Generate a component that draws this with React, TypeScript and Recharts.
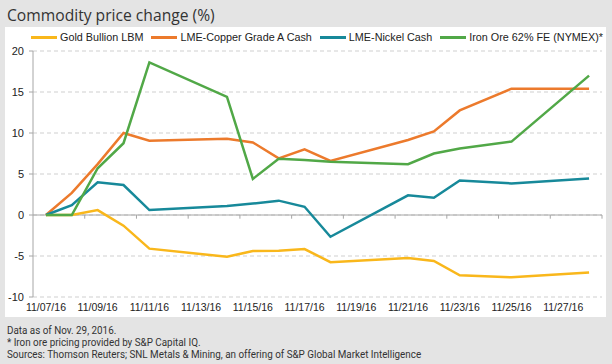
import React from 'react';
import { LineChart, Line, XAxis, YAxis, CartesianGrid, ReferenceLine } from 'recharts';

// trading days shown on the chart
const dates = [
  '11/07/16', '11/08/16', '11/09/16', '11/10/16', '11/11/16',
  '11/14/16', '11/15/16', '11/16/16', '11/17/16', '11/18/16',
  '11/21/16', '11/22/16', '11/23/16', '11/25/16', '11/28/16'
];

const gold = [0, 0, 0.6, -1.3, -4.1, -5.1, -4.4, -4.35, -4.15, -5.75, -5.25, -5.6, -7.35, -7.6, -7.0];
const copper = [0, 2.7, 6.2, 10.0, 9.05, 9.3, 8.85, 6.9, 8.0, 6.6, 9.15, 10.2, 12.75, 15.4, 15.4];
const nickel = [0, 1.2, 4.0, 3.65, 0.6, 1.1, 1.4, 1.75, 1.0, -2.65, 2.4, 2.1, 4.2, 3.85, 4.45];
const ironOre = [0, 0, 5.7, 8.75, 18.6, 14.4, 4.4, 6.85, 6.7, 6.5, 6.2, 7.5, 8.1, 8.95, 17.0];

const xTickLabels = [
  '11/07/16', '11/09/16', '11/11/16', '11/13/16', '11/15/16', '11/17/16',
  '11/19/16', '11/21/16', '11/23/16', '11/25/16', '11/27/16'
];
const yTicks = [-10, -5, 0, 5, 10, 15, 20];

const footnotes = [
  'Data as of Nov. 29, 2016.',
  '* Iron ore pricing provided by S&P Capital IQ.',
  'Sources: Thomson Reuters; SNL Metals & Mining, an offering of S&P Global Market Intelligence'
];

const series = [
  { key: 'gold', name: 'Gold Bullion LBM', color: '#F9B71B', values: gold },
  { key: 'copper', name: 'LME-Copper Grade A Cash', color: '#EC7A2C', values: copper },
  { key: 'nickel', name: 'LME-Nickel Cash', color: '#17899A', values: nickel },
  { key: 'iron', name: 'Iron Ore 62% FE (NYMEX)*', color: '#51A847', values: ironOre }
];

// day offset from 11/07
const dayOf = (label: string) => Number(label.split('/')[1]) - 7;

const data = dates.map((d, i) => {
  const row: any = { day: dayOf(d), date: d };
  series.forEach(s => { row[s.key] = s.values[i]; });
  return row;
});

const labelDays = xTickLabels.map(dayOf);
const tickMarkDays = labelDays.map(d => d + 1.5);

const axisFont = { fontFamily: '"Liberation Sans", Arial, sans-serif', fontSize: 10.5, fill: '#222' };

const App: React.FC = () => {
  return (
    <div style={{ position: 'absolute', left: 0, top: 0, width: 612, height: 364, background: '#e4e4e4', overflow: 'hidden' }}>
      <div style={{
        position: 'absolute', left: 7, top: 3, fontFamily: '"Open Sans", sans-serif', fontSize: 17,
        color: '#333', whiteSpace: 'nowrap', transform: 'scaleX(0.92)', transformOrigin: 'left'
      }}>
        Commodity price change (%)
      </div>
      <div style={{ position: 'absolute', left: 5, top: 27, width: 601, height: 290, background: '#fff' }} />

      <div style={{ position: 'absolute', left: 0, top: 0 }}>
        <LineChart width={612} height={364} data={data} margin={{ top: 51, right: 10, bottom: 47, left: 0 }}>
          <CartesianGrid vertical={false} stroke="#cfcfcf" strokeDasharray="4 3" />
          <XAxis
            dataKey="day"
            type="number"
            domain={[-0.5, 21.5]}
            ticks={labelDays}
            tickFormatter={(v: number) => xTickLabels[labelDays.indexOf(v)]}
            axisLine={false}
            tickLine={false}
            tickSize={4}
            tickMargin={3}
            height={20}
            interval={0}
            tick={axisFont}
          />
          <YAxis
            domain={[-10, 20]}
            ticks={yTicks}
            width={33}
            axisLine={{ stroke: '#a6a6a6' }}
            tickLine={{ stroke: '#a6a6a6' }}
            tickSize={4}
            tickMargin={5}
            interval={0}
            tick={{ ...axisFont, fontSize: 11 }}
          />
          <ReferenceLine y={0} stroke="#a6a6a6" strokeWidth={1} />
          {tickMarkDays.map(d => (
            <ReferenceLine key={d} segment={[{ x: d, y: 0 }, { x: d, y: -0.45 }]} stroke="#a6a6a6" />
          ))}
          {series.map(s => (
            <Line
              key={s.key}
              type="linear"
              dataKey={s.key}
              name={s.name}
              stroke={s.color}
              strokeWidth={2.5}
              dot={false}
              activeDot={false}
              isAnimationActive={false}
            />
          ))}
        </LineChart>
      </div>

      <div style={{
        position: 'absolute', left: 31, top: 31, display: 'flex', alignItems: 'center',
        fontFamily: '"Liberation Sans", Arial, sans-serif', fontSize: 10.8, color: '#222', whiteSpace: 'nowrap'
      }}>
        {series.map((s, i) => (
          <div key={s.key} style={{ display: 'flex', alignItems: 'center', marginLeft: i === 0 ? 0 : 8 }}>
            <span style={{ display: 'inline-block', width: 26, height: 3, background: s.color, marginRight: 3 }} />
            <span>{s.name}</span>
          </div>
        ))}
      </div>

      <div style={{
        position: 'absolute', left: 7, top: 325, fontFamily: 'Roboto, sans-serif', fontSize: 10,
        lineHeight: '12px', color: '#333', whiteSpace: 'nowrap', transform: 'scaleX(0.985)', transformOrigin: 'left'
      }}>
        {footnotes.map(t => <div key={t} style={{ height: 12 }}>{t}</div>)}
      </div>
    </div>
  );
};

export default App;
